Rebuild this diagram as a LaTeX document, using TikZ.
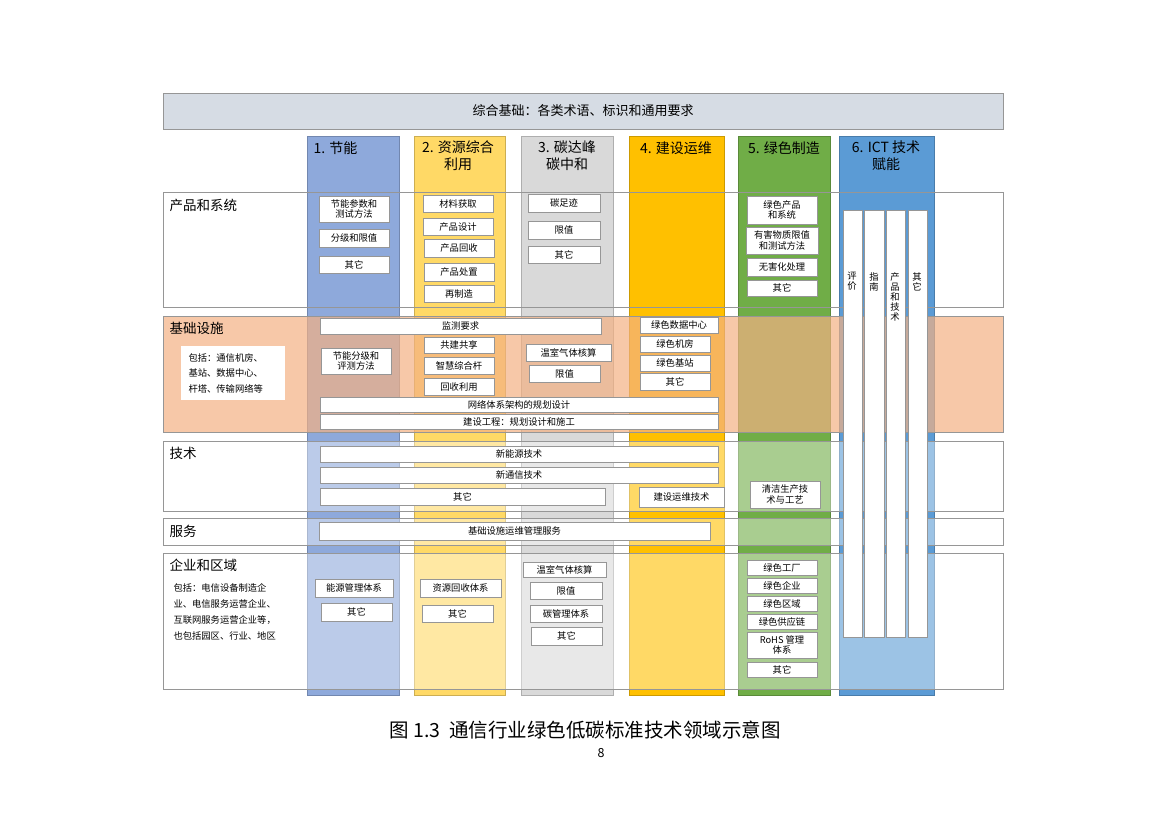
\documentclass[tikz,border=0pt]{standalone}
\usepackage{fontspec}
\setmainfont{Noto Sans CJK SC}
\usepackage{tikz}
\usetikzlibrary{positioning, fit}
\definecolor{topbar}{RGB}{214, 220, 228}
\definecolor{energy}{RGB}{142, 169, 219}
\definecolor{resource}{RGB}{255, 217, 102}
\definecolor{carbon}{RGB}{217, 217, 217}
\definecolor{build}{RGB}{255, 192, 0}
\definecolor{greenmfg}{RGB}{112, 173, 71}
\definecolor{ict}{RGB}{91, 155, 213}
\definecolor{infra}{RGB}{244, 177, 131}
\definecolor{edge}{RGB}{150, 150, 150}
% box from corner (x1,y1) to corner (x2,y2)
\newcommand\cellbox[6]{\node[cell, minimum width={(#4-#2)*1pt}, minimum height={(#5-#3)*1pt}] (#1) at ({(#2+#4)/2},{(#3+#5)/2}) {#6};}

\begin{document}
\begin{tikzpicture}[
        x=1pt, y=-1pt,
        column/.style={draw=#1!80!black, fill=#1, line width=0.4pt},
        band/.style={draw=edge, line width=0.6pt},
        cell/.style={draw=edge, fill=white, inner sep=0pt, align=center, font=\fontsize{9.3}{10.2}\selectfont},
        strip/.style={draw=edge, fill=white, inner sep=0pt},
        head/.style={font=\fontsize{14}{17}\selectfont, align=center},
        rowlabel/.style={anchor=west, font=\fontsize{13.5}{15}\selectfont}
    ]
        \useasboundingbox (0,0) rectangle (1169,826);

        % columns
        \draw[column=energy]   (307,136) rectangle (399,695);
        \draw[column=resource] (414,136) rectangle (505,695);
        \draw[column=carbon]   (521,136) rectangle (613,695);
        \draw[column=build]    (629,136) rectangle (724,695);
        \draw[column=greenmfg] (738,136) rectangle (830,695);
        \draw[column=ict]      (839,136) rectangle (934,695);

        % rows
        \node[band, fill=topbar, minimum width=840pt, minimum height=36pt, font=\fontsize{13}{15}\selectfont] (base) at (583,111) {综合基础：各类术语、标识和通用要求};
        \draw[band] (163,192) rectangle (1003,307);
        \draw[band, fill=infra, fill opacity=0.7] (163,316) rectangle (1003,432);
        \draw[band, fill=white, fill opacity=0.4] (163,441) rectangle (1003,511);
        \draw[band, fill=white, fill opacity=0.4] (163,518) rectangle (1003,545);
        \draw[band, fill=white, fill opacity=0.4] (163,553) rectangle (1003,689);

        % column titles
        \node[head, anchor=west] (t1) at (310,148) {1. 节能};
        \node[head] (t2) at (458,156) {2. 资源综合\\利用};
        \node[head] (t3) at (567,156) {3. 碳达峰\\碳中和};
        \node[head] (t4) at (676,148) {4. 建设运维};
        \node[head] (t5) at (784,148) {5. 绿色制造};
        \node[head] (t6) at (886,156) {6. ICT 技术\\赋能};

        % row labels
        \node[rowlabel] (r1) at (166,205) {产品和系统};
        \node[rowlabel] (r2) at (166,328) {基础设施};
        \node[rowlabel] (r3) at (166,453) {技术};
        \node[rowlabel] (r4) at (166,531) {服务};
        \node[rowlabel] (r5) at (166,565) {企业和区域};
        \node[fill=white, inner sep=0pt, fit={(181,346)(285,400)}] (infrabox) {};
        \node[anchor=west, align=left, font=\fontsize{9.3}{15.5}\selectfont] (infratext) at (185,373) {包括：通信机房、\\基站、数据中心、\\杆塔、传输网络等};
        \node[anchor=north west, align=left, font=\fontsize{9.3}{16}\selectfont] (enttext) at (170,580) {包括：电信设备制造企\\业、电信服务运营企业、\\互联网服务运营企业等，\\也包括园区、行业、地区};

        % ICT strips
        \node[strip, fit={(843,210)(862,637)}] (s1) {};
        \node[strip, fit={(864,210)(884,637)}] (s2) {};
        \node[strip, fit={(886,210)(905,637)}] (s3) {};
        \node[strip, fit={(908,210)(927,637)}] (s4) {};
        \node[cell, draw=none, fill=none, anchor=north] at (852,272) {评\\价};
        \node[cell, draw=none, fill=none, anchor=north] at (874,272) {指\\南};
        \node[cell, draw=none, fill=none, anchor=north] at (895,272) {产\\品\\和\\技\\术};
        \node[cell, draw=none, fill=none, anchor=north] at (917,272) {其\\它};

        % product and system
        \cellbox{p1a}{319}{196}{389}{222}{节能参数和\\测试方法}
        \cellbox{p1b}{319}{229}{389}{247}{分级和限值}
        \cellbox{p1c}{319}{256}{389}{273}{其它}
        \cellbox{p2a}{423}{195}{493}{212}{材料获取}
        \cellbox{p2b}{423}{218}{493}{235}{产品设计}
        \cellbox{p2c}{424}{239}{494}{257}{产品回收}
        \cellbox{p2d}{424}{263}{494}{281}{产品处置}
        \cellbox{p2e}{424}{285}{494}{302}{再制造}
        \cellbox{p3a}{528}{194}{600}{212}{碳足迹}
        \cellbox{p3b}{528}{221}{600}{239}{限值}
        \cellbox{p3c}{528}{246}{600}{263}{其它}
        \cellbox{p5a}{747}{196}{817}{224}{绿色产品\\和系统}
        \cellbox{p5b}{746}{227}{818}{254}{有害物质限值\\和测试方法}
        \cellbox{p5c}{747}{258}{817}{276}{无害化处理}
        \cellbox{p5d}{747}{280}{817}{296}{其它}

        % infrastructure
        \cellbox{i0}{320}{318}{601}{334}{监测要求}
        \cellbox{i1}{321}{348}{391}{374}{节能分级和\\评测方法}
        \cellbox{i2a}{424}{337}{494}{353}{共建共享}
        \cellbox{i2b}{424}{357}{494}{374}{智慧综合杆}
        \cellbox{i2c}{424}{378}{494}{395}{回收利用}
        \cellbox{i3a}{526}{344}{611}{361}{温室气体核算}
        \cellbox{i3b}{529}{365}{600}{382}{限值}
        \cellbox{i4a}{640}{317}{718}{333}{绿色数据中心}
        \cellbox{i4b}{640}{336}{710}{352}{绿色机房}
        \cellbox{i4c}{640}{355}{710}{371}{绿色基站}
        \cellbox{i4d}{640}{373}{710}{390}{其它}
        \cellbox{inet}{320}{397}{718}{412}{网络体系架构的规划设计}
        \cellbox{ieng}{320}{414}{718}{429}{建设工程：规划设计和施工}

        % technology and service
        \cellbox{k1}{320}{446}{718}{462}{新能源技术}
        \cellbox{k2}{320}{467}{718}{483}{新通信技术}
        \cellbox{k3}{320}{488}{605}{505}{其它}
        \cellbox{k4}{639}{487}{724}{507}{建设运维技术}
        \cellbox{k5}{750}{481}{820}{508}{清洁生产技\\术与工艺}
        \cellbox{v1}{319}{522}{710}{540}{基础设施运维管理服务}

        % enterprise and region
        \cellbox{e1a}{315}{579}{393}{597}{能源管理体系}
        \cellbox{e1b}{321}{603}{392}{621}{其它}
        \cellbox{e2a}{420}{579}{501}{597}{资源回收体系}
        \cellbox{e2b}{422}{605}{493}{622}{其它}
        \cellbox{e3a}{523}{562}{606}{577}{温室气体核算}
        \cellbox{e3b}{530}{582}{602}{599}{限值}
        \cellbox{e3c}{530}{605}{602}{622}{碳管理体系}
        \cellbox{e3d}{531}{627}{602}{645}{其它}
        \cellbox{e5a}{747}{560}{817}{575}{绿色工厂}
        \cellbox{e5b}{747}{578}{817}{593}{绿色企业}
        \cellbox{e5c}{747}{596}{817}{611}{绿色区域}
        \cellbox{e5d}{747}{614}{817}{629}{绿色供应链}
        \cellbox{e5e}{747}{632}{817}{658}{RoHS 管理\\体系}
        \cellbox{e5f}{747}{662}{817}{677}{其它}

        % caption
        \node[font=\fontsize{19.5}{22}\selectfont] (caption) at (585,730) {图 1.3 \ 通信行业绿色低碳标准技术领域示意图};
        \node[font=\fontsize{12.5}{14}\selectfont] (page) at (601,753) {8};
    \end{tikzpicture}
\end{document}
